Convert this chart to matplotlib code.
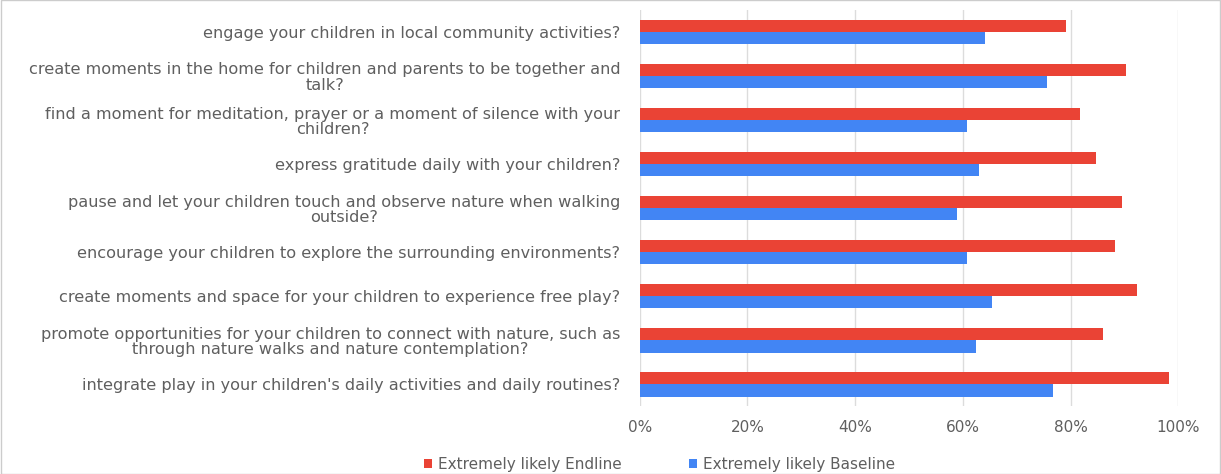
import matplotlib
matplotlib.use("Agg")
import matplotlib.pyplot as plt
from matplotlib.patches import Rectangle
from matplotlib.ticker import PercentFormatter
import numpy as np

# survey items, top to bottom
questions = [
    "engage your children in local community activities?",
    "create moments in the home for children and parents to be together and\ntalk?",
    "find a moment for meditation, prayer or a moment of silence with your\nchildren?",
    "express gratitude daily with your children?",
    "pause and let your children touch and observe nature when walking\noutside?",
    "encourage your children to explore the surrounding environments?",
    "create moments and space for your children to experience free play?",
    "promote opportunities for your children to connect with nature, such as\nthrough nature walks and nature contemplation?",
    "integrate play in your children's daily activities and daily routines?",
]
endline = [79.1, 90.3, 81.8, 84.7, 89.6, 88.3, 92.4, 86.0, 98.2]
baseline = [64.1, 75.6, 60.8, 63.0, 58.9, 60.8, 65.4, 62.5, 76.8]
xticks = [0, 20, 40, 60, 80, 100]

red = "#ea4335"
blue = "#4285f4"
txt = "#5f5f5f"

plt.rcParams['font.family'] = ['DejaVu Sans']

fig = plt.figure(figsize=(12.21, 4.74), dpi=100)
ax = fig.add_axes([0.524, 0.143, 0.441, 0.836])

y = np.arange(len(questions))
h = 0.28
ax.barh(y - h / 2, endline, height=h, color=red, label="Extremely likely Endline", zorder=3)
ax.barh(y + h / 2, baseline, height=h, color=blue, label="Extremely likely Baseline", zorder=3)

ax.set_ylim(len(questions) - 0.5, -0.5)
ax.set_xlim(0, 100)
ax.set_xticks(xticks)
ax.xaxis.set_major_formatter(PercentFormatter(decimals=0))
ax.set_yticks(y)
ax.set_yticklabels(questions, fontsize=11.6, color=txt, ha="right",
                   multialignment="center", linespacing=1.05)
ax.tick_params(axis="y", length=0, pad=14)
ax.tick_params(axis="x", length=0, pad=10, labelsize=11, labelcolor=txt)
ax.grid(axis="x", color="#dcdcdc", linewidth=1, zorder=0)
for s in ax.spines.values():
    s.set_visible(False)

fig.legend(loc="lower center", bbox_to_anchor=(0.54, -0.025), ncol=2, frameon=False,
           fontsize=11, labelcolor=txt, handlelength=0.55, handleheight=0.55,
           handletextpad=0.35, columnspacing=4.4)

# light frame around the chart
fig.patches.append(Rectangle((0.001, 0.001), 0.998, 0.998, transform=fig.transFigure,
                             fill=False, edgecolor="#cccccc", linewidth=1))

fig.savefig("out.png", dpi=100)
